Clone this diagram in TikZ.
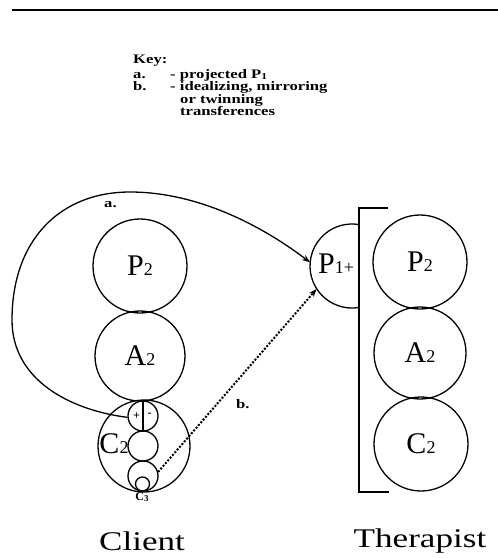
\documentclass[tikz,border=0pt]{standalone}
\usepackage{fontspec}
\setmainfont{Liberation Serif}
\newfontfamily\wideserif[FakeStretch=1.3]{Liberation Serif}
\newfontfamily\keyfont[FakeStretch=1.28]{Liberation Serif}
\usetikzlibrary{arrows.meta}

% capital with a small old-style index, as used inside the circles
\newcommand\idx[2]{#1{\fontsize{18}{18}\selectfont #2}}

\begin{document}
\begin{tikzpicture}[x=1pt,y=-1pt,
  ring/.style={circle, draw, line width=1.3pt, inner sep=0pt, minimum size=#1},
  hole/.style={circle, inner sep=0pt, minimum size=#1},
  keytext/.style={anchor=base west, inner sep=0pt, font=\keyfont\bfseries\fontsize{13}{13}\selectfont},
  bigname/.style={inner sep=0pt, font=\fontsize{30}{30}\selectfont},
  caption/.style={inner sep=0pt, font=\wideserif\fontsize{27}{27}\selectfont},
  conn/.style={line width=1.3pt},
  dotconn/.style={line width=2pt, dash pattern=on 2pt off 1.6pt},
  tip/.style={-{Stealth[length=8pt,width=6pt]}}]

\useasboundingbox (0,0) rectangle (498,558);

% rule across the top
\draw[line width=2pt] (12,10) -- (498,10);

% key
\node[keytext] (keyhead) at (133,63) {Key:};
\node[keytext] (keya) at (133,78) {a.};
\node[keytext] (keyatext) at (170,78) {- projected P\raisebox{-1pt}{\fontsize{9}{9}\selectfont 1}};
\node[keytext] (keyb) at (133,90.5) {b.};
\node[keytext] (keybtext) at (170,90.5) {- idealizing, mirroring};
\node[keytext] (keybtext2) at (180,103) {or twinning};
\node[keytext] (keybtext3) at (180,115.5) {transferences};

% client
\node[ring=94pt, bigname] (cP) at (140,266) {\idx{P}{2}};
\node[ring=90pt, bigname] (cA) at (140,356) {\idx{A}{2}};
\node[ring=92pt] (cC) at (144,446) {};
\node[ring=30pt] (pm) at (143,416) {};
\draw[conn] (pm.north) -- (pm.south);
\node[inner sep=0pt, font=\bfseries\fontsize{12}{12}\selectfont] (plus) at (136.5,416) {+};
\node[inner sep=0pt, font=\bfseries\fontsize{12}{12}\selectfont] (minus) at (149.5,415) {-};
\node[ring=30pt] (mid) at (143,446) {};
\node[ring=30pt] (low) at (143,476) {};
\node[ring=14pt] (tiny) at (142.5,484) {};
\node[bigname] (cClabel) at (114,444) {\idx{C}{2}};
\node[inner sep=0pt, font=\bfseries\fontsize{12}{12}\selectfont] (cthree) at (142,497) {C\raisebox{-1pt}{\fontsize{9}{9}\selectfont 3}};

% therapist
\node[ring=94pt, bigname] (tP) at (420,262) {\idx{P}{2}};
\node[ring=92pt, bigname] (tA) at (420,353) {\idx{A}{2}};
\node[ring=94pt, bigname] (tC) at (421,444) {\idx{C}{2}};
\node[hole=84pt] (p1) at (352,266) {};
\draw[line width=1.3pt] (352,266) ++(80.4:42) arc[start angle=80.4, end angle=279.6, radius=42];
\node[bigname] (p1label) at (336,264) {P{\fontsize{18}{18}\selectfont 1+}};
\draw[line width=1.4pt] (388,208) -- (359,208) -- (359,492) -- (389,492);

% connectors
\draw[conn, tip] (pm.185) .. controls (70,410) and (12,380) .. (12,320)
  .. controls (12,240) and (60,192) .. (130,192)
  .. controls (200,192) and (265,228) .. (p1.175);
\node[keytext] (laba) at (104,207) {a.};
\draw[dotconn, tip] (low.15) -- (p1.213);
\node[keytext] (labb) at (236,408) {b.};

% captions
\node[caption] (client) at (142,541) {Client};
\node[caption] (therapist) at (420,541) {Therapist};
\end{tikzpicture}
\end{document}
